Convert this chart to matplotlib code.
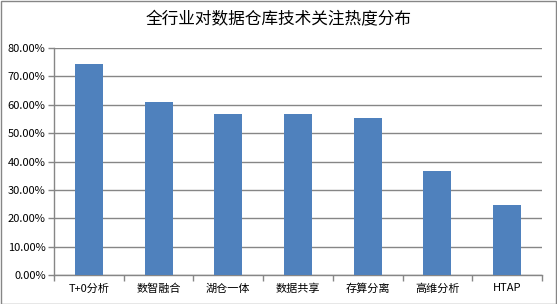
import matplotlib
matplotlib.use("Agg")
import matplotlib.pyplot as plt
from matplotlib.ticker import FuncFormatter, FixedLocator
from matplotlib.patches import Rectangle

plt.rcParams['font.family'] = ['Noto Sans CJK SC', 'DejaVu Sans']

categories = ["T+0分析", "数智融合", "湖仓一体", "数据共享", "存算分离", "高维分析", "HTAP"]
values = [0.744, 0.610, 0.567, 0.567, 0.553, 0.366, 0.247]
title = "全行业对数据仓库技术关注热度分布"

W, H = 557, 304
fig = plt.figure(figsize=(W/100, H/100), dpi=100)
ax = fig.add_axes([54/W, 1-275/H, (542-54)/W, (275-48)/H])

x = list(range(len(categories)))
ax.bar(x, values, width=0.4, color="#4F81BD", zorder=3)
ax.set_xlim(-0.5, len(categories)-0.5)
ax.set_ylim(0, 0.8)
ax.set_yticks([i/10 for i in range(9)])
ax.yaxis.set_major_formatter(FuncFormatter(lambda v, p: f"{v*100:.2f}%"))
ax.grid(axis='y', color="#868686", linewidth=1, zorder=0)
ax.set_xticks(x)
ax.set_xticklabels(categories)
ax.xaxis.set_minor_locator(FixedLocator([i-0.5 for i in range(len(categories)+1)]))
ax.tick_params(axis='x', which='major', length=0, labelsize=8, pad=6)
ax.tick_params(axis='x', which='minor', length=4, color="#868686", width=1)
ax.tick_params(axis='y', length=4, color="#868686", width=1, labelsize=8, pad=2)
for s in ['top', 'right']:
    ax.spines[s].set_visible(False)
for s in ['left', 'bottom']:
    ax.spines[s].set_color("#868686")
    ax.spines[s].set_linewidth(1)

fig.text(0.5, 1-20/H, title, ha='center', va='center', fontsize=12)
fig.patches.append(Rectangle((0.5/W, 0.5/H), 1-1.5/W, 1-1.5/H, transform=fig.transFigure,
                             fill=False, edgecolor="#868686", linewidth=1))
fig.savefig("out.png", dpi=100)
